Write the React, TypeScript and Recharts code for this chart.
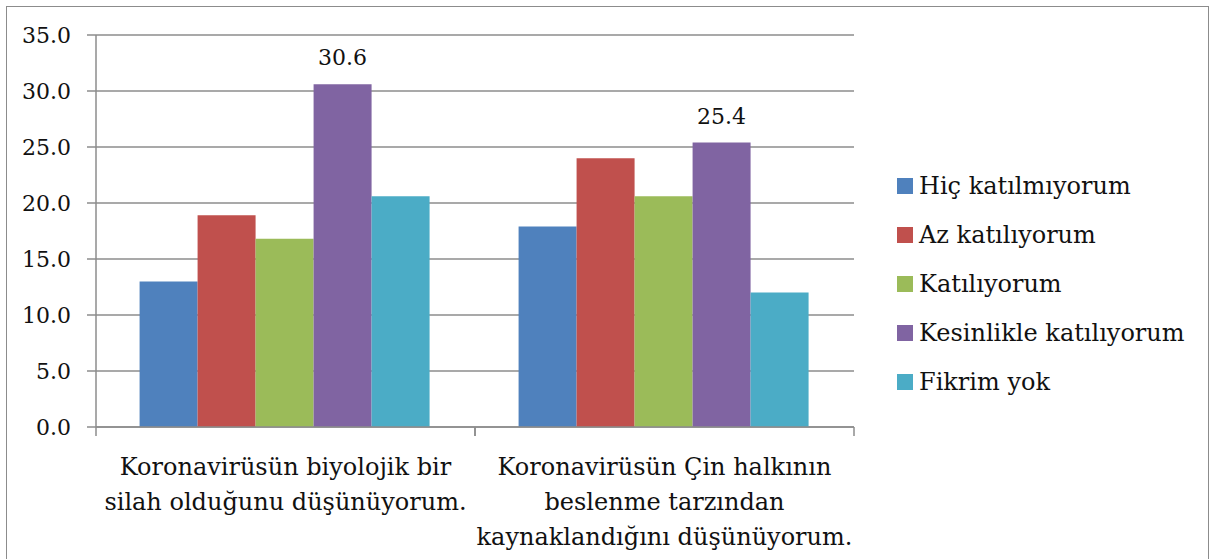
import { Bar, BarChart, CartesianGrid, LabelList, Legend, XAxis, YAxis } from "recharts";

const categories = [
  "Koronavirüsün biyolojik bir\nsilah olduğunu düşünüyorum.",
  "Koronavirüsün Çin halkının\nbeslenme tarzından\nkaynaklandığını düşünüyorum.",
];

const seriesNames = [
  "Hiç katılmıyorum",
  "Az katılıyorum",
  "Katılıyorum",
  "Kesinlikle katılıyorum",
  "Fikrim yok",
];

const hicValues = [13.0, 17.9];
const azValues = [18.9, 24.0];
const katiliyorumValues = [16.8, 20.6];
const kesinlikleValues = [30.6, 25.4];
const fikrimYokValues = [20.6, 12.0];

const yTicks = [0, 5, 10, 15, 20, 25, 30, 35];

const colors = ["#4f81bd", "#c0504d", "#9bbb59", "#8064a2", "#4bacc6"];

const data = categories.map((name, i) => ({
  name,
  hic: hicValues[i],
  az: azValues[i],
  kat: katiliyorumValues[i],
  kes: kesinlikleValues[i],
  fik: fikrimYokValues[i],
}));

const keys = ["hic", "az", "kat", "kes", "fik"];

const FONT = "DejaVu Serif";
const W = 1210;
const H = 559;
const Y_AXIS_W = 96;
const LEGEND_W = 356;
const BAND = (W - Y_AXIS_W - LEGEND_W) / categories.length;

function CategoryTick(props: any) {
  const { x, y, payload } = props;
  const lines = String(payload.value).split("\n");
  return (
    <g>
      <line x1={x - BAND / 2} x2={x - BAND / 2} y1={y} y2={y + 9} stroke="#8c8c8c" strokeWidth={1.5} />
      <line x1={x + BAND / 2} x2={x + BAND / 2} y1={y} y2={y + 9} stroke="#8c8c8c" strokeWidth={1.5} />
      <text x={x} y={y} textAnchor="middle" fontFamily={FONT} fontSize={24} fill="#111">
        {lines.map((l, i) => (
          <tspan key={i} x={x} dy={i === 0 ? 48 : 35}>
            {l}
          </tspan>
        ))}
      </text>
    </g>
  );
}

function LegendContent() {
  return (
    <div style={{ width: LEGEND_W, paddingLeft: 43, boxSizing: "border-box", fontFamily: FONT }}>
      {seriesNames.map((n, i) => (
        <div key={n} style={{ display: "flex", alignItems: "center", height: 49 }}>
          <span style={{ width: 16, height: 16, background: colors[i], marginRight: 6, display: "inline-block" }} />
          <span style={{ fontSize: 24, color: "#111" }}>{n}</span>
        </div>
      ))}
    </div>
  );
}

export default function App() {
  return (
    <div style={{ position: "absolute", left: 0, top: 0, width: W, height: H, background: "#fff", overflow: "hidden" }}>
      <div
        style={{
          position: "absolute",
          left: 6,
          top: 6,
          width: 1201,
          height: 600,
          border: "1.5px solid #8c8c8c",
        }}
      />
      <BarChart
        width={W}
        height={H}
        data={data}
        margin={{ top: 35, right: 0, left: 0, bottom: 0 }}
        barCategoryGap="11.5%"
        barGap={0}
        style={{ fontFamily: FONT }}
      >
        <CartesianGrid vertical={false} stroke="#8c8c8c" strokeWidth={1.5} />
        <YAxis
          width={Y_AXIS_W}
          domain={[0, 35]}
          ticks={yTicks}
          interval={0}
          tickFormatter={(v) => Number(v).toFixed(1)}
          tickSize={9}
          tickMargin={16}
          axisLine={{ stroke: "#8c8c8c", strokeWidth: 1.5 }}
          tickLine={{ stroke: "#8c8c8c", strokeWidth: 1.5 }}
          tick={{ fill: "#111", fontSize: 22, fontFamily: FONT }}
        />
        <XAxis
          dataKey="name"
          height={132}
          interval={0}
          tickLine={false}
          tickSize={0}
          tickMargin={0}
          axisLine={{ stroke: "#8c8c8c", strokeWidth: 1.5 }}
          tick={<CategoryTick />}
        />
        <Legend
          layout="vertical"
          align="right"
          verticalAlign="top"
          wrapperStyle={{ top: 161 }}
          content={<LegendContent />}
        />
        {keys.map((k, i) => (
          <Bar key={k} dataKey={k} name={seriesNames[i]} fill={colors[i]} isAnimationActive={false}>
            {k === "kes" && (
              <LabelList
                dataKey={k}
                position="top"
                offset={19}
                formatter={(v: any) => Number(v).toFixed(1)}
                fill="#111"
                fontSize={22}
                fontFamily={FONT}
              />
            )}
          </Bar>
        ))}
      </BarChart>
    </div>
  );
}
